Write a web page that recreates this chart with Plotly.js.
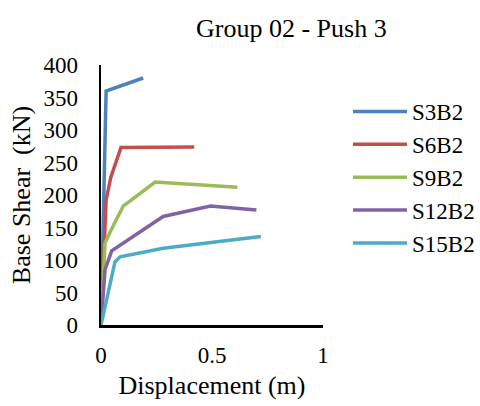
<!DOCTYPE html>
<html>
<head>
<meta charset="utf-8">
<script src="https://cdn.plot.ly/plotly-3.0.1.min.js"></script>
<style>html,body{margin:0;padding:0;background:#fff;}#chart{width:480px;height:406px;}</style>
</head>
<body>
<div id="chart"></div>
<script>
const seriesNames = ["S3B2", "S6B2", "S9B2", "S12B2", "S15B2"];
const s3b2X = [0, 0.023, 0.19];
const s3b2Y = [0, 360, 380];
const s6b2X = [0, 0.010, 0.016, 0.023, 0.044, 0.09, 0.42];
const s6b2Y = [0, 100, 160, 192, 227, 273, 274];
const s9b2X = [0, 0.018, 0.041, 0.10, 0.244, 0.614];
const s9b2Y = [0, 126, 143, 183, 220, 212];
const s12b2X = [0, 0.018, 0.048, 0.154, 0.28, 0.493, 0.70];
const s12b2Y = [0, 85, 114, 138, 167, 183, 177];
const s15b2X = [0, 0.063, 0.086, 0.13, 0.28, 0.72];
const s15b2Y = [0, 97, 105, 108, 118, 136];
const colors = ["#4F81BD", "#C0504D", "#9BBB59", "#8064A2", "#4BACC6"];
const xTicks = [0, 0.5, 1];
const xTickText = ["0", "0.5", "1"];
const yTicks = [0, 50, 100, 150, 200, 250, 300, 350, 400];

const xs = [s3b2X, s6b2X, s9b2X, s12b2X, s15b2X];
const ys = [s3b2Y, s6b2Y, s9b2Y, s12b2Y, s15b2Y];
const font = "Liberation Serif, Times New Roman, serif";

const traces = seriesNames.map((n, i) => ({
  x: xs[i], y: ys[i], name: n, type: "scatter", mode: "lines",
  line: {color: colors[i], width: 3.5}
}));

const layout = {
  width: 480, height: 406,
  paper_bgcolor: "#fff", plot_bgcolor: "#fff",
  margin: {l: 101, r: 157, t: 65, b: 81},
  font: {family: font, color: "#000", size: 23},
  title: {text: "Group 02 - Push 3", font: {family: font, size: 26, color: "#000"},
          x: 0.607, xref: "container", xanchor: "center", y: 0.931, yref: "container", yanchor: "middle"},
  xaxis: {range: [0, 1], tickvals: xTicks, ticktext: xTickText, showgrid: false, zeroline: false,
          showline: true, linecolor: "#000", linewidth: 2.5, ticks: "", ticklabelstandoff: 8,
          tickfont: {family: font, size: 23, color: "#000"},
          title: {text: "Displacement (m)", font: {family: font, size: 26, color: "#000"}, standoff: 9}},
  yaxis: {range: [0, 400], tickvals: yTicks, showgrid: false, zeroline: false,
          showline: true, linecolor: "#000", linewidth: 2.5,
          ticks: "outside", ticklen: 16, tickcolor: "rgba(0,0,0,0)",
          tickfont: {family: font, size: 23, color: "#000"},
          title: {text: "Base Shear  (kN)", font: {family: font, size: 26, color: "#000"}, standoff: 6}},
  showlegend: true,
  legend: {xref: "container", x: 0.725, xanchor: "left", y: 0.904, yanchor: "top", bgcolor: "rgba(0,0,0,0)",
           font: {family: font, size: 23, color: "#000"}, tracegroupgap: 0, itemwidth: 54}
};

Plotly.newPlot("chart", traces, layout, {displayModeBar: false, staticPlot: true});
</script>
</body>
</html>
